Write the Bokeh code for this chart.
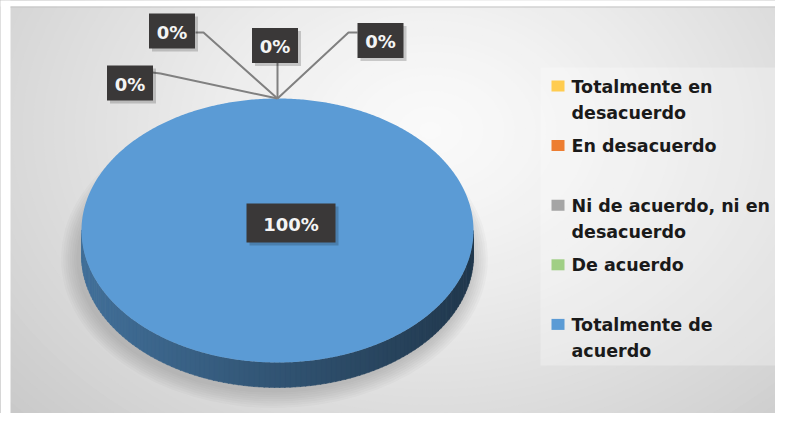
import numpy as np
from bokeh.plotting import figure
from bokeh.models import Range1d
from bokeh.core.properties import value
from bokeh.embed import file_html
from bokeh.resources import INLINE

# ---------------- data ----------------
categories = ["Totalmente en desacuerdo", "En desacuerdo",
              "Ni de acuerdo, ni en desacuerdo", "De acuerdo",
              "Totalmente de acuerdo"]
legend_lines = [["Totalmente en", "desacuerdo"], ["En desacuerdo"],
                ["Ni de acuerdo, ni en", "desacuerdo"], ["De acuerdo"],
                ["Totalmente de", "acuerdo"]]
values = [0, 0, 0, 0, 100]          # percent of answers
colors = ["#FFCC4F", "#ED7D31", "#A5A5A5", "#A0CF85", "#5B9BD5"]

# ---------------- layout / style ----------------
FONT = value("DejaVu Sans")
cx, cy, rx, ry, depth = 277.0, 230.0, 196.0, 132.0, 25.0
# label boxes for the zero slices (center x, center y, elbow x, elbow y, attach x, attach y)
zero_label_layout = [
    (171.5, 30.5, 203, 32, 195, 32),
    (129.5, 82.5, 160, 73, 152, 72),
    (274.5, 45.0, 277, 62, 277, 62),
    (380.0, 40.0, 348, 32, 357, 32),
]
big_label_pos = (290.5, 222.5)
W, H = 775, 413

p = figure(width=W, height=H, x_range=Range1d(0, W), y_range=Range1d(H, 0),
           output_backend="svg", toolbar_location=None, min_border=0,
           x_axis_location=None, y_axis_location=None)
p.grid.visible = False
p.outline_line_color = None
p.border_fill_color = "white"

# ---------------- background gradient ----------------
def grey(t):
    g = int(round(250 - 48 * t ** 1.3))
    g = max(0, min(255, g))
    return "#%02x%02x%02x" % (g, g, g)

p.background_fill_color = grey(1.12)
gx, gy, grx, gry = 430.0, 130.0, 560.0, 420.0
ts = np.linspace(1.12, 0.02, 60)
p.ellipse(x=[gx] * len(ts), y=[gy] * len(ts), width=list(2 * grx * ts),
          height=list(2 * gry * ts), fill_color=[grey(t) for t in ts], line_color=None)

# white page margin of the original picture
p.quad(left=[0, 0], right=[10, W], top=[0, 0], bottom=[H, 6], fill_color="white",
       line_color=None)
p.line(x=[10, W], y=[6.5, 6.5], line_color="#c4c4c4", line_width=1)

# ---------------- legend panel ----------------
p.quad(left=[540], right=[782], top=[67], bottom=[365], fill_color="white",
       fill_alpha=0.28, line_color=None)

# ---------------- pie shadow ----------------
for k in range(8):
    p.ellipse(x=[cx - 3], y=[cy + depth + 3], width=[2 * (rx + 2 + 2.2 * k)],
              height=[2 * (ry + 2 + 2.2 * k)], fill_color="#555555", fill_alpha=0.035,
              line_color=None)

# ---------------- pie geometry ----------------
total = float(sum(values))
bounds = np.concatenate([[0.0], np.cumsum(values) / total * 2 * np.pi])

def rim(theta, dy=0.0):
    return cx + rx * np.sin(theta), cy - ry * np.cos(theta) + dy

def hex_to_rgb(h):
    h = h.lstrip("#")
    return [int(h[i:i + 2], 16) for i in (0, 2, 4)]

side_xs, side_ys, side_cols = [], [], []
top_xs, top_ys, top_cols = [], [], []
for i, v in enumerate(values):
    a0, a1 = bounds[i], bounds[i + 1]
    if a1 - a0 <= 0:
        continue
    # top face
    th = np.linspace(a0, a1, max(3, int((a1 - a0) / 0.01)))
    x, y = rim(th)
    top_xs.append([cx] + list(x) + [cx])
    top_ys.append([cy] + list(y) + [cy])
    top_cols.append(colors[i])
    # front side
    lo, hi = max(a0, np.pi / 2), min(a1, 3 * np.pi / 2)
    if hi > lo:
        base = hex_to_rgb(colors[i])
        edges = np.linspace(lo, hi, 120)
        for t0, t1 in zip(edges[:-1], edges[1:]):
            tt = np.linspace(t0, t1 + 0.004, 4)
            xt, yt = rim(tt)
            xb, yb = rim(tt[::-1], depth)
            side_xs.append(list(xt) + list(xb))
            side_ys.append(list(yt) + list(yb))
            f = (np.mean(xt) - (cx - rx)) / (2 * rx)
            k = 0.72 - 0.36 * f
            c = [int(round(ch * k)) for ch in base]
            side_cols.append("#%02x%02x%02x" % tuple(c))

p.patches(xs=side_xs, ys=side_ys, fill_color=side_cols, line_color=side_cols, line_width=0.5)
p.patches(xs=top_xs, ys=top_ys, fill_color=top_cols, line_color=None)

# ---------------- data labels ----------------
label_texts = ["{:.0%}".format(v / total) for v in values]
zero_idx = [i for i, v in enumerate(values) if v == 0]
for j, i in enumerate(zero_idx):
    bx, by, ex, ey, ax_, ay_ = zero_label_layout[j]
    amid = (bounds[i] + bounds[i + 1]) / 2
    px, py = rim(amid)
    p.line(x=[ax_, ex, px], y=[ay_, ey, py], line_color="#808080", line_width=2)

def label_box(x, y, w, h, txt):
    p.rect(x=[x + 3], y=[y + 3], width=[w], height=[h], fill_color="#000000",
           fill_alpha=0.18, line_color=None)
    p.rect(x=[x], y=[y], width=[w], height=[h], fill_color="#3a3838", line_color=None)
    p.text(x=[x], y=[y + 1], text=[txt], text_font=FONT, text_font_style="bold",
           text_font_size="18px", text_color="#f4f4f4", text_align="center",
           text_baseline="middle")

for j, i in enumerate(zero_idx):
    bx, by = zero_label_layout[j][:2]
    label_box(bx, by, 46, 35, label_texts[i])

for i, v in enumerate(values):
    if v > 0:
        label_box(big_label_pos[0], big_label_pos[1], 89, 39, label_texts[i])

# ---------------- legend ----------------
leg_x, leg_y0, leg_step = 557.5, 85.5, 59.6
for i, lines in enumerate(legend_lines):
    yc = leg_y0 + i * leg_step
    p.rect(x=[leg_x], y=[yc], width=[13], height=[11], fill_color=colors[i], line_color=None)
    for k, line in enumerate(lines):
        p.text(x=[571], y=[yc + 0.5 + 26.5 * k], text=[line], text_font=FONT,
               text_font_style="bold", text_font_size="17.5px", text_color="#1a1a1a",
               text_align="left", text_baseline="alphabetic")

open("out.html", "w").write(file_html(p, INLINE))
